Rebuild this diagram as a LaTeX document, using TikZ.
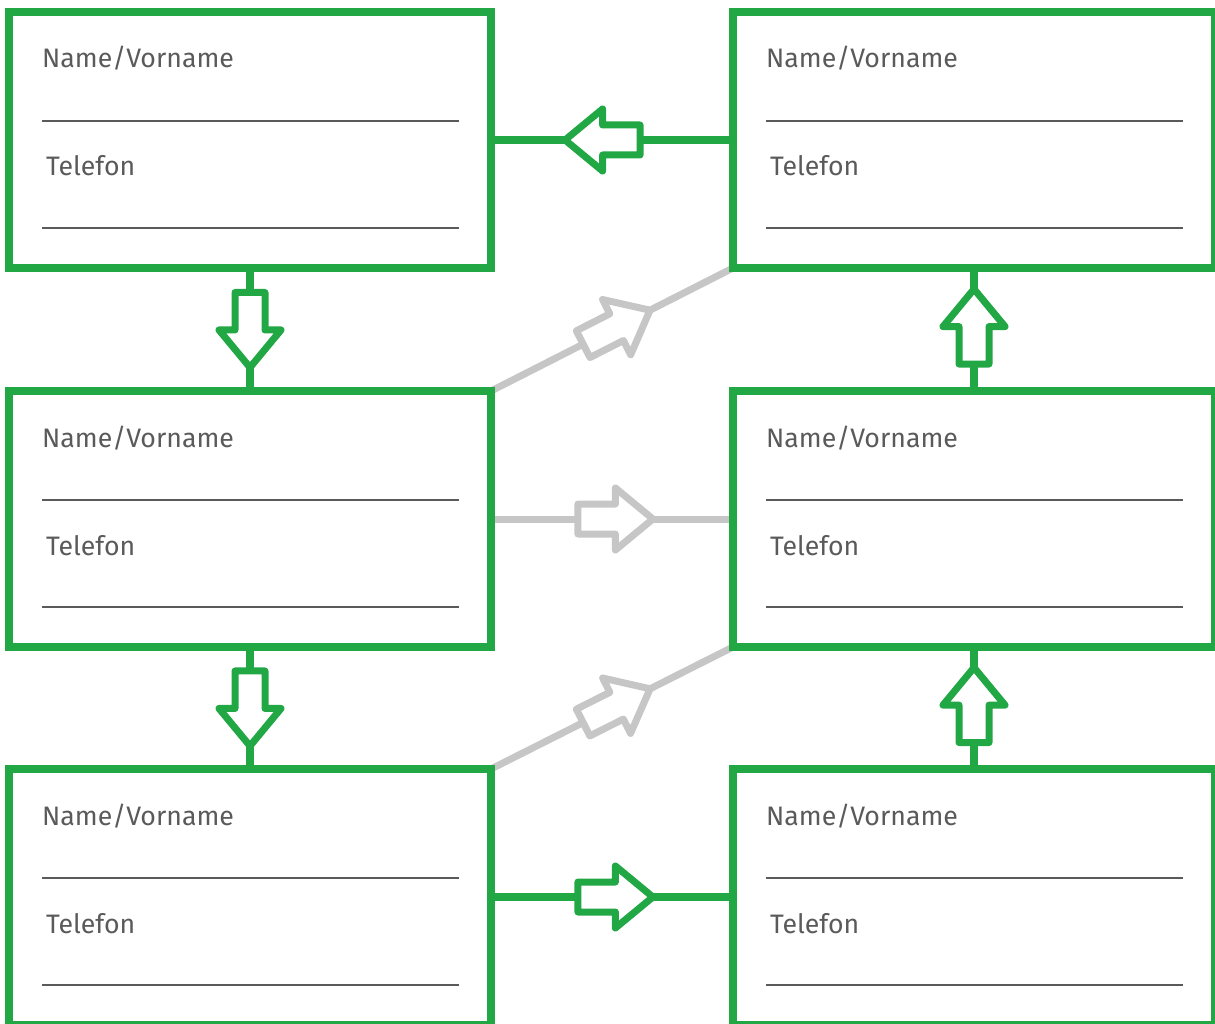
\documentclass[tikz,border=0pt]{standalone}
\usepackage{fontspec}
\setmainfont{Fira Sans}
\usetikzlibrary{calc,decorations.markings}
\definecolor{grn}{HTML}{22A745}
\definecolor{gry}{HTML}{C6C6C6}
\definecolor{txt}{HTML}{5A5A5A}
\tikzset{
  box/.style={draw=grn, line width=8pt, rectangle, minimum width=482pt, minimum height=256pt, inner sep=0pt, outer sep=0pt},
  lbl/.style={anchor=base west, inner sep=0pt, text=txt, font=\fontsize{26.7}{30}\selectfont},
  rulestyle/.style={draw=txt, line width=1.5pt},
  apos/.store in=\arrowpos, apos=0.5,
  harrow/.style={postaction={decorate}, decoration={markings, mark=at position \arrowpos with {\draw[line width=7pt, line join=round, draw=#1, fill=white] (-37.5,-15) -- (0,-15) -- (0,-31) -- (37.5,0) -- (0,31) -- (0,15) -- (-37.5,15) -- cycle;}}},
  gconn/.style={draw=grn, line width=8pt, harrow=grn},
  yconn/.style={draw=gry, line width=7pt, harrow=gry},
}
\newcommand\cardcontent[1]{%
  \node[lbl] (#1-name) at ($(#1.north west)+(33,56)$) {Name/Vorname};
  \draw[rulestyle] ($(#1.north west)+(33,109)$) coordinate (#1-r1a) -- ($(#1.north west)+(450,109)$) coordinate (#1-r1b);
  \node[lbl] (#1-tel) at ($(#1.north west)+(37,164)$) {Telefon};
  \draw[rulestyle] ($(#1.north west)+(33,216)$) coordinate (#1-r2a) -- ($(#1.north west)+(450,216)$) coordinate (#1-r2b);
}
\begin{document}
\begin{tikzpicture}[x=1pt, y=-1pt]
\useasboundingbox (0,0) rectangle (1215,1024);
\clip (0,0) rectangle (1215,1024);
\path (250,140) node[box] (n1) {}
      (974,140) node[box] (n2) {}
      (250,519) node[box] (n3) {}
      (974,519) node[box] (n4) {}
      (250,897) node[box] (n5) {}
      (974,897) node[box] (n6) {};
% connectors
\draw[apos=0.539, gconn] (n2.west) -- (n1.east);
\draw[apos=0.504, gconn] (n1.south) -- (n3.north);
\draw[apos=0.519, yconn] (n3.north east) -- (n2.south west);
\draw[apos=0.514, yconn] (n3.east) -- (n4.west);
\draw[apos=0.524, gconn] (n4.north) -- (n2.south);
\draw[apos=0.504, gconn] (n3.south) -- (n5.north);
\draw[apos=0.519, yconn] (n5.north east) -- (n4.south west);
\draw[apos=0.514, gconn] (n5.east) -- (n6.west);
\draw[apos=0.524, gconn] (n6.north) -- (n4.south);
% boxes on top
\foreach \n in {n1,n2,n3,n4,n5,n6} {
  \draw[draw=grn, line width=8pt] (\n.north west) rectangle (\n.south east);
  \cardcontent{\n}
}
\end{tikzpicture}
\end{document}
